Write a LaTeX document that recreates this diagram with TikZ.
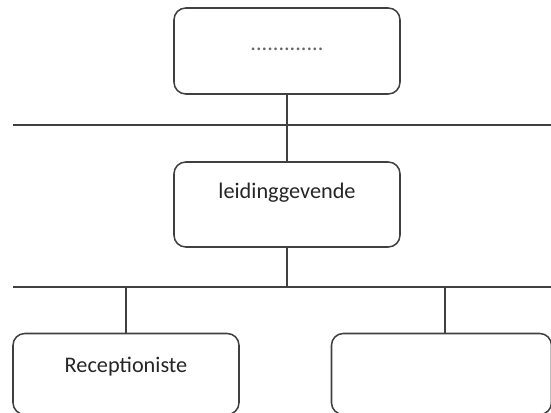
\documentclass[tikz,border=0pt]{standalone}
\usepackage{fontspec}
\setmainfont{Carlito}
\usetikzlibrary{calc}
\tikzset{unit/.style={draw=black!75, line width=1.3pt, rectangle, rounded corners=10pt, inner sep=0pt}}
\tikzset{caption/.style={anchor=base, text=black!85, font=\fontsize{19}{23}\selectfont}}

\begin{document}
\begin{tikzpicture}[x=0.03cm, y=-0.03cm]
  \clip (0,0) rectangle (551,412);
  \fill[white] (0,0) rectangle (551,412);

  \node[unit, minimum width=6.78cm, minimum height=2.58cm] (box0) at (287,51) {};
  \node[unit, minimum width=6.78cm, minimum height=2.55cm] (box1) at (287,204.5) {};
  \node[unit, minimum width=6.78cm, minimum height=2.43cm] (box2) at (126,374) {};
  \node[unit, minimum width=6.60cm, minimum height=2.43cm] (box3) at (441.5,374) {};

  \node[caption, text=black!60] (dots) at (287,50) {.............};
  \node[caption] (lead) at (287,198) {leidinggevende};
  \node[caption] (recep) at (126,372) {Receptioniste};

  \coordinate (bar0l) at (13,125);
  \coordinate (bar0r) at (560,125);
  \coordinate (bar1l) at (13,287);
  \coordinate (bar1r) at (560,287);
  \coordinate (drop3) at (445,287);

  \draw[draw=black!75, line width=1.3pt] (bar0l) -- (bar0r);
  \draw[draw=black!75, line width=1.3pt] (bar1l) -- (bar1r);

  \path[draw=black!75, line width=1.3pt] (box0.south) edge (box0.south |- bar0l);
  \path[draw=black!75, line width=1.3pt] (box1.north) edge (box1.north |- bar0l);
  \path[draw=black!75, line width=1.3pt] (box1.south) edge (box1.south |- bar1l);
  \path[draw=black!75, line width=1.3pt] (box2.north) edge (box2.north |- bar1l);
  \path[draw=black!75, line width=1.3pt] (drop3) edge (drop3 |- box3.north);
\end{tikzpicture}
\end{document}
